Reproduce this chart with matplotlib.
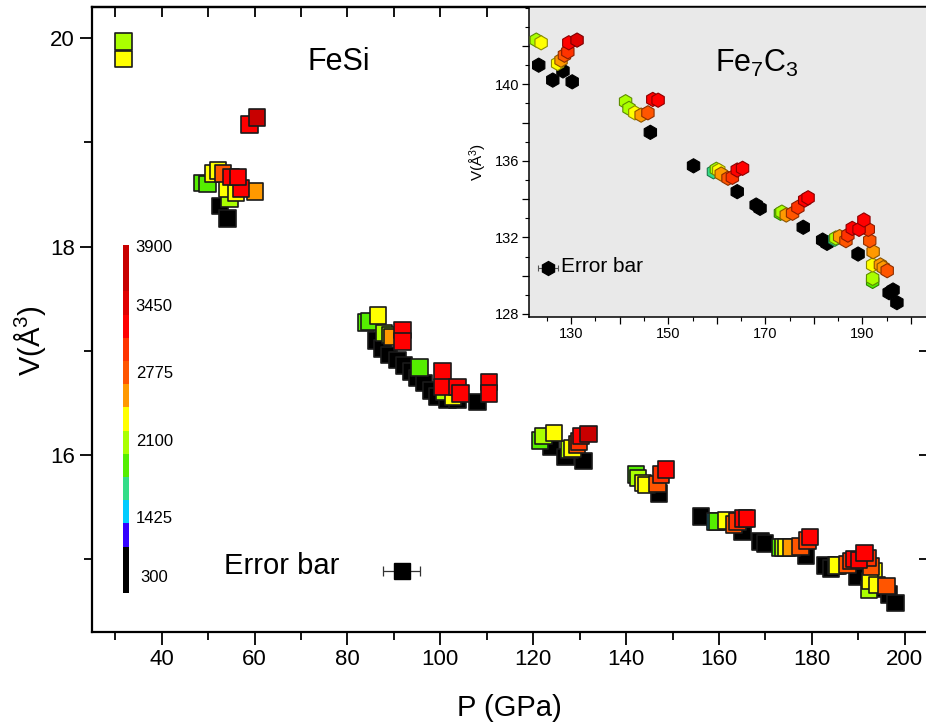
import numpy as np
import matplotlib
matplotlib.use("Agg")
import matplotlib.pyplot as plt
from matplotlib.ticker import MultipleLocator

plt.rcParams['font.family'] = ['Liberation Sans', 'DejaVu Sans']
plt.rcParams['mathtext.fontset'] = 'custom'
plt.rcParams['mathtext.rm'] = 'Liberation Sans'
plt.rcParams['mathtext.it'] = 'Liberation Sans'

# colour scale (temperature, K) at the left
cbar_colors = ['#000000', '#3300ff', '#00ccff', '#33dd88', '#55ee00', '#aaff00',
               '#ffff00', '#ff9900', '#ff5500', '#ff3300', '#ff0000', '#e00000', '#c80000']
cbar_units = [2, 1, 1, 1, 1, 1, 1, 1, 1, 1, 1, 1, 2]
cbar_ticks = [300, 1425, 2100, 2775, 3450, 3900]
cbar_tick_pos = [0.65, 3.23, 6.52, 9.48, 12.37, 14.9]

# FeSi: pressure (GPa), volume (A^3), temperature (K)
fesi_P = [31.8, 31.8, 58.9, 60.5,
          52.6, 54.2, 48.8, 49.9, 51.2, 52.1, 54.6, 54.2, 56.0, 53.2, 60.1, 57.1, 54.9, 56.4,
          86.2, 87.6, 89.0, 90.8, 92.2, 93.7, 95.1, 96.5, 98.0, 99.4, 101.6, 103.7, 108.0,
          84.0, 84.7, 86.6, 87.9, 89.2, 89.7, 91.9, 91.9, 95.5, 100.5, 100.5, 100.9, 102.7,
          103.7, 104.4, 110.5, 110.5,
          121.5, 122.2, 124.5, 123.8, 127.0, 130.8, 127.8, 128.5, 129.4, 129.9, 130.3, 131.9,
          142.1, 142.6, 143.6, 144.4, 146.8, 147.5, 148.6, 147.1,
          156.1, 159.3, 159.7, 161.5, 163.2, 164.0, 165.3, 166.0, 165.1, 168.9, 169.9,
          173.3, 173.9, 174.6, 175.6, 177.6, 179.1, 179.6, 178.7,
          183.0, 184.1, 185.2, 185.5, 187.7, 188.4, 189.1, 190.2, 191.3, 192.0, 192.7, 193.4,
          189.8, 192.5, 194.0, 192.3, 196.1, 193.1, 196.6, 198.0]
fesi_V = [19.97, 19.80, 19.17, 19.24,
          18.39, 18.27, 18.61, 18.60, 18.70, 18.73, 18.46, 18.56, 18.52, 18.70, 18.53, 18.56, 18.67, 18.67,
          17.10, 17.02, 16.96, 16.91, 16.86, 16.80, 16.74, 16.69, 16.62, 16.56, 16.53, 16.53, 16.51,
          17.27, 17.28, 17.34, 17.17, 17.15, 17.13, 17.20, 17.09, 16.84, 16.80, 16.65, 16.61, 16.56,
          16.65, 16.59, 16.70, 16.59,
          16.14, 16.18, 16.21, 16.08, 15.98, 15.94, 16.05, 16.06, 16.10, 16.13, 16.18, 16.20,
          15.81, 15.78, 15.73, 15.71, 15.72, 15.81, 15.86, 15.63,
          15.41, 15.36, 15.36, 15.37, 15.33, 15.36, 15.39, 15.39, 15.26, 15.17, 15.15,
          15.11, 15.11, 15.11, 15.11, 15.12, 15.18, 15.21, 15.03,
          14.94, 14.91, 14.94, 14.94, 14.95, 14.98, 15.00, 14.99, 15.06, 15.01, 14.93, 14.88,
          14.83, 14.79, 14.75, 14.71, 14.74, 14.72, 14.66, 14.58]
fesi_T = [2100, 2300, 3250, 3750,
          300, 300, 1900, 1900, 2300, 2300, 2100, 2300, 2300, 2800, 2550, 3250, 3250, 3250,
          300, 300, 300, 300, 300, 300, 300, 300, 300, 300, 300, 300, 300,
          1900, 1900, 2300, 2100, 2100, 2550, 3250, 3250, 1900, 3250, 3250, 2100, 2300,
          3250, 3250, 3250, 3250,
          1900, 2100, 2300, 300, 300, 300, 2100, 2300, 2800, 3000, 3250, 3750,
          1900, 2100, 2300, 2300, 2800, 3000, 3250, 300,
          300, 1500, 1900, 2300, 2800, 3000, 3250, 3250, 300, 300, 300,
          1900, 2100, 2300, 2550, 2800, 3000, 3250, 300,
          300, 300, 1900, 2300, 2800, 3000, 3250, 3250, 3250, 3000, 2800, 2300,
          300, 2300, 2300, 2100, 2800, 300, 300, 300]

# Fe7C3 (inset)
fe7c3_P = [122.8, 123.8, 123.3, 126.2, 128.3, 130.2, 127.2, 127.9, 128.6, 129.3, 129.5, 131.2,
           141.2, 141.9, 143.1, 144.4, 145.8, 146.8, 147.9, 146.3,
           155.2, 159.3, 159.9, 160.4, 160.9, 162.3, 163.2, 164.2, 165.3, 164.2, 168.1, 168.9,
           173.1, 173.4, 174.3, 175.6, 176.7, 178.1, 178.8, 177.8,
           181.8, 182.7, 184.3, 184.5, 185.3, 186.6, 187.0, 187.9, 189.3, 190.3, 191.2, 191.5,
           192.2, 192.1, 193.7, 194.3, 195.1, 192.1, 192.1, 189.1, 195.5, 196.3, 197.1]
fe7c3_V = [142.31, 142.17, 141.0, 140.22, 140.70, 140.13, 141.09, 141.26, 141.52, 141.70, 142.17, 142.31,
           139.09, 138.74, 138.51, 138.39, 138.51, 139.21, 139.17, 137.49,
           135.74, 135.43, 135.56, 135.50, 135.31, 135.09, 135.14, 135.52, 135.61, 134.39, 133.69, 133.52,
           133.26, 133.32, 133.17, 133.26, 133.57, 133.95, 134.07, 132.53,
           131.86, 131.69, 131.90, 131.97, 132.04, 131.83, 132.12, 132.47, 132.42, 132.91, 132.42, 131.83,
           131.25, 130.56, 130.56, 130.42, 130.26, 129.86, 129.70, 131.13, 129.11, 129.25, 128.59]
fe7c3_T = [2100, 2300, 300, 300, 300, 300, 2300, 2550, 2800, 3000, 3250, 3500,
           2100, 2100, 2300, 2550, 2800, 3250, 3250, 300,
           300, 1700, 2100, 2300, 2550, 2800, 3000, 3250, 3250, 300, 300, 300,
           1900, 2100, 2550, 2800, 3000, 3250, 3250, 300,
           300, 300, 1700, 2100, 2550, 2800, 3000, 3250, 3250, 3250, 3000, 2800,
           2550, 2300, 2550, 2550, 2800, 2100, 1900, 300, 300, 300, 300]

# error bar examples
fesi_err = (91.7, 14.89, 4.0)
fe7c3_err = (125.2, 130.42, 2.0)


def temp_colors(T):
    pos = np.interp(T, cbar_ticks, cbar_tick_pos)
    edges = np.cumsum(cbar_units)
    idx = np.searchsorted(edges, pos, side='right')
    idx = np.clip(idx, 0, len(cbar_colors) - 1)
    return [cbar_colors[i] for i in idx]


W, H = 926, 726
fig = plt.figure(figsize=(W / 100, H / 100), dpi=100)

# ---- main FeSi panel ----
ax = fig.add_axes([92 / W, 1 - 632 / H, (927 - 92) / W, (632 - 7) / H])
order = np.argsort(fesi_T, kind='stable')
P = np.array(fesi_P)[order]
V = np.array(fesi_V)[order]
cols = temp_colors(np.array(fesi_T)[order])
ax.scatter(P, V, s=142, marker='s', c=cols, edgecolors='#1a1a1a', linewidths=1.2, zorder=3)

ax.errorbar(fesi_err[0], fesi_err[1], xerr=fesi_err[2], fmt='s', ms=11.5, mfc='black',
            mec='black', ecolor='#333333', elinewidth=0.9, capsize=3.5, capthick=0.9, zorder=3)
ax.text(53.4, 14.93, 'Error bar', fontsize=21, ha='left', va='center')
ax.text(78.2, 19.77, 'FeSi', fontsize=22, ha='center', va='center')

ax.set_xlim(25, 204.8)
ax.set_ylim(14.3, 20.3)
ax.xaxis.set_major_locator(MultipleLocator(20))
ax.xaxis.set_minor_locator(MultipleLocator(10))
ax.yaxis.set_major_locator(MultipleLocator(2))
ax.yaxis.set_minor_locator(MultipleLocator(1))
ax.tick_params(which='major', direction='out', length=9, width=1.3, labelsize=16,
               top=False, right=False)
ax.tick_params(which='minor', direction='out', length=6, width=1.3, top=False, right=False)
for s in ax.spines.values():
    s.set_linewidth(1.6)

secx = ax.secondary_xaxis('top')
secx.set_xticks(list(range(30, 210, 10)), labels=[''] * 18)
secx.tick_params(direction='in', length=7, width=1.3)
secx.spines['top'].set_linewidth(1.6)
secy = ax.secondary_yaxis('right')
secy.set_yticks([15, 16, 17, 18, 19, 20], labels=[''] * 6)
secy.tick_params(direction='in', length=6, width=1.3)

ax.set_xlabel('P (GPa)', fontsize=21, va='center')
ax.xaxis.set_label_coords(0.5, -0.122)
ax.set_ylabel('V(Å$^3$)', fontsize=21, va='center')
ax.yaxis.set_label_coords(-0.074, 0.467)

# ---- temperature colour bar ----
cax = fig.add_axes([123 / W, 1 - 593 / H, 6 / W, 348 / H])
bottoms = np.concatenate([[0], np.cumsum(cbar_units)[:-1]])
cax.bar(0, cbar_units, bottom=bottoms, color=cbar_colors, width=1.0)
cax.set_xlim(-0.5, 0.5)
cax.set_ylim(0, sum(cbar_units))
cax.axis('off')
for t, p in zip(cbar_ticks, cbar_tick_pos):
    cax.text(4.7, p, str(t), fontsize=12, ha='center', va='center')

# ---- Fe7C3 inset ----
axin = fig.add_axes([529 / W, 1 - 317 / H, (927 - 529) / W, (317 - 7) / H])
axin.set_facecolor('#e9e9e9')
order = np.argsort(fe7c3_T, kind='stable')
Pi = np.array(fe7c3_P)[order]
Vi = np.array(fe7c3_V)[order]
ci = temp_colors(np.array(fe7c3_T)[order])
edge_i = [tuple(0.55 * np.array(matplotlib.colors.to_rgb(c))) for c in ci]
axin.scatter(Pi, Vi, s=105, marker='h', c=ci, edgecolors=edge_i, linewidths=0.8, zorder=3)
axin.errorbar(fe7c3_err[0], fe7c3_err[1], xerr=fe7c3_err[2], fmt='h', ms=10, mfc='black',
              mec='black', ecolor='#555555', elinewidth=0.8, capsize=2.5, capthick=0.8, zorder=3)
axin.text(127.9, 130.47, 'Error bar', fontsize=15, ha='left', va='center')
axin.text(168.2, 141.1, 'Fe$_7$C$_3$', fontsize=22, ha='center', va='center')

axin.set_xlim(121.3, 203.3)
axin.set_ylim(127.84, 144.04)
axin.set_xticks(list(range(130, 201, 10)),
                labels=['130', '', '150', '', '170', '', '190', ''])
axin.xaxis.set_minor_locator(MultipleLocator(5))
axin.set_yticks(list(range(128, 143, 2)),
                labels=['128', '', '132', '', '136', '', '140', ''])
axin.yaxis.set_minor_locator(MultipleLocator(1))
axin.tick_params(which='major', direction='out', length=5, width=0.9, labelsize=10.5, pad=2)
axin.tick_params(which='minor', direction='out', length=3, width=0.8)
for s in axin.spines.values():
    s.set_linewidth(1.1)
axin.set_ylabel('V(Å$^3$)', fontsize=11, labelpad=4)

fig.savefig('out.png', dpi=100)
